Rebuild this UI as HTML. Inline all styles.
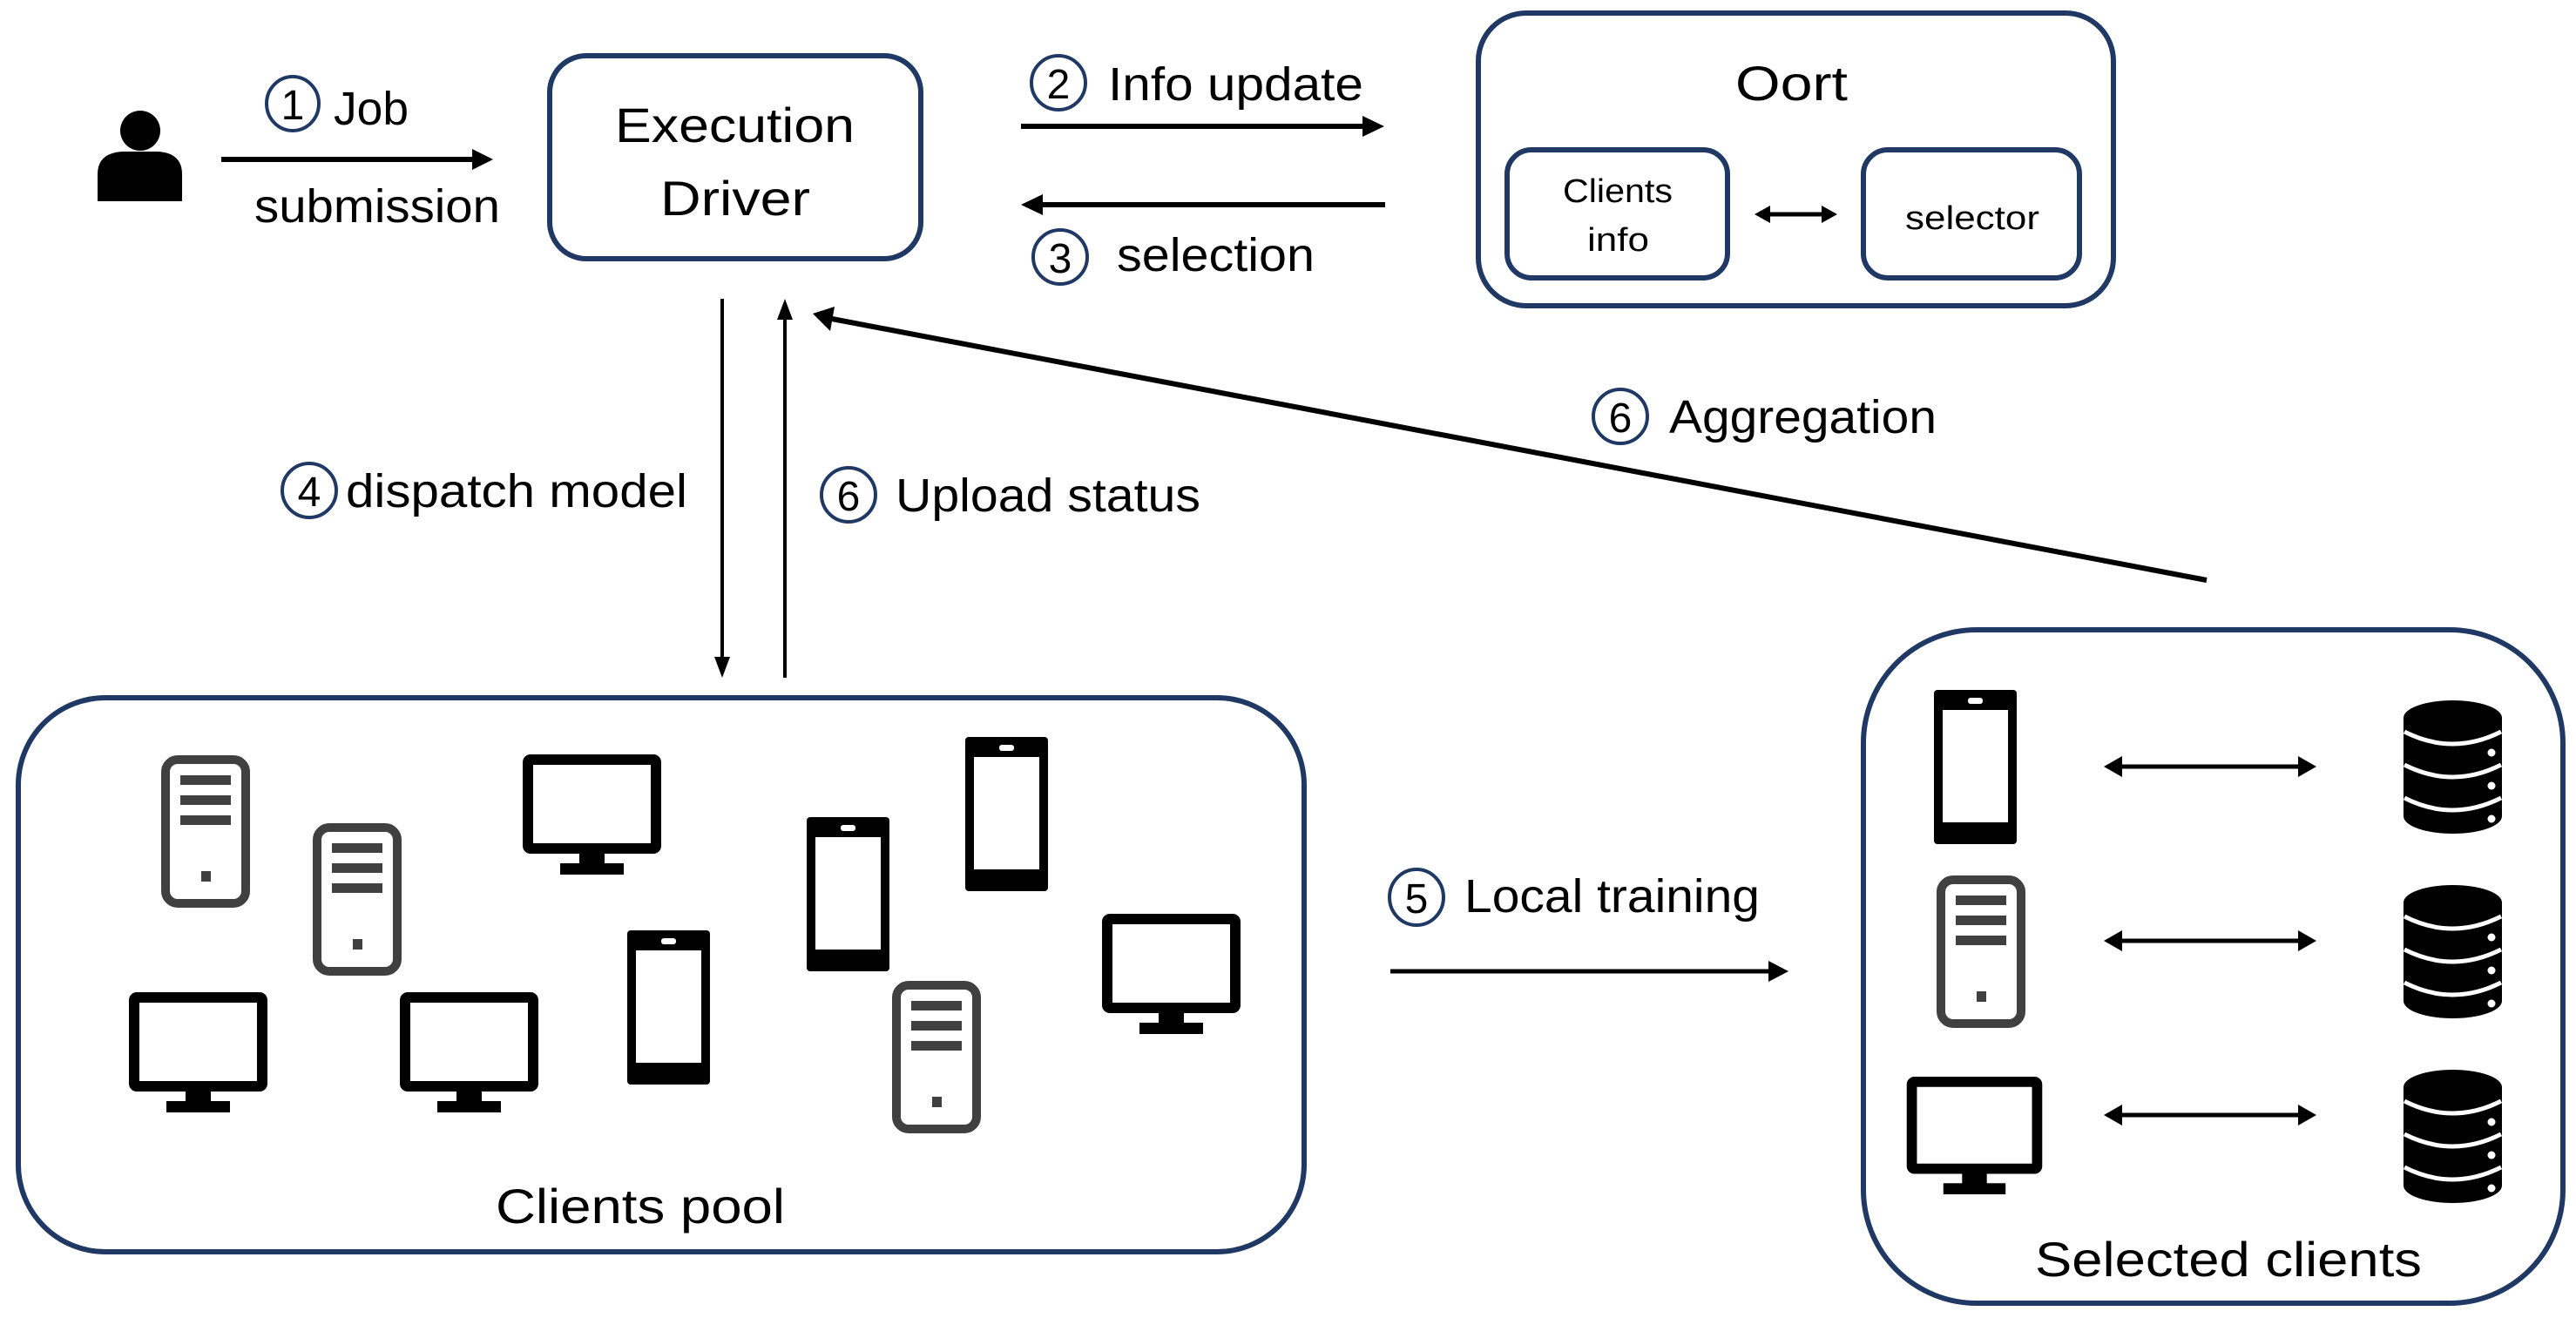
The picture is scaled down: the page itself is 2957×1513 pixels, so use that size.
<!DOCTYPE html>
<html><head><meta charset="utf-8"><style>
html,body{margin:0;padding:0;background:#fff}
svg{display:block}
text{font-family:"Liberation Sans",sans-serif;fill:#000}
</style></head><body>
<svg width="2957" height="1513" viewBox="0 0 2957 1513" xmlns="http://www.w3.org/2000/svg">
<defs>
<symbol id="srv" viewBox="0 0 102 175" width="102" height="175">
<rect x="5" y="5" width="92" height="165" rx="14" fill="none" stroke="#404040" stroke-width="10"/>
<rect x="22" y="23" width="58" height="11" fill="#404040"/>
<rect x="22" y="46" width="58" height="11" fill="#404040"/>
<rect x="22" y="69" width="58" height="11" fill="#404040"/>
<rect x="46" y="133" width="11" height="12" fill="#404040"/>
</symbol>
<symbol id="mon" viewBox="0 0 159 138" width="159" height="138">
<rect x="6" y="6" width="147" height="102" rx="3" fill="none" stroke="#000" stroke-width="12"/>
<rect x="65" y="112" width="29" height="14" fill="#000"/>
<rect x="43" y="125" width="73" height="13" fill="#000"/>
</symbol>
<symbol id="ph" viewBox="0 0 95 177" width="95" height="177">
<rect x="0" y="0" width="95" height="177" rx="4" fill="#000"/>
<rect x="10" y="23" width="75" height="129" fill="#fff"/>
<rect x="39" y="9" width="17" height="7" rx="3" fill="#fff"/>
</symbol>
<symbol id="db" viewBox="0 0 113 153" width="113" height="153">
<ellipse cx="56.5" cy="20" rx="56.5" ry="20" fill="#000"/>
<rect x="0" y="20" width="113" height="113" fill="#000"/>
<ellipse cx="56.5" cy="133" rx="56.5" ry="20" fill="#000"/>
<path d="M1,36 Q56.5,64 112,36" fill="none" stroke="#fff" stroke-width="5"/>
<path d="M1,74 Q56.5,102 112,74" fill="none" stroke="#fff" stroke-width="5"/>
<path d="M1,112 Q56.5,140 112,112" fill="none" stroke="#fff" stroke-width="5"/>
<circle cx="101" cy="60" r="4.5" fill="#fff"/>
<circle cx="101" cy="98" r="4.5" fill="#fff"/>
<circle cx="101" cy="136" r="4.5" fill="#fff"/>
</symbol>
</defs>

<!-- person -->
<circle cx="161" cy="150" r="23" fill="#000"/>
<path d="M112,231 L112,200 Q112,176 140,174 L182,174 Q209,176 209,200 L209,231 Z" fill="#000"/>

<!-- job arrow -->
<line x1="254" y1="183" x2="545" y2="183" stroke="#000" stroke-width="6"/>
<polygon points="566,183 542,171 542,195" fill="#000"/>
<ellipse cx="336" cy="119" rx="30" ry="31" fill="none" stroke="#1f3864" stroke-width="4"/>
<text x="336" y="137" font-size="48" text-anchor="middle">1</text>
<text x="383" y="143" font-size="54" textLength="86" lengthAdjust="spacingAndGlyphs">Job</text>
<text x="292" y="255" font-size="54" textLength="282" lengthAdjust="spacingAndGlyphs">submission</text>

<!-- Execution driver -->
<rect x="631" y="64" width="426" height="233" rx="42" fill="none" stroke="#1f3864" stroke-width="6"/>
<text x="706" y="163" font-size="56" textLength="275" lengthAdjust="spacingAndGlyphs">Execution</text>
<text x="758" y="247" font-size="56" textLength="172" lengthAdjust="spacingAndGlyphs">Driver</text>

<!-- info update -->
<line x1="1172" y1="145" x2="1566" y2="145" stroke="#000" stroke-width="6"/>
<polygon points="1589,145 1564,133 1564,157" fill="#000"/>
<ellipse cx="1215" cy="95" rx="31" ry="31" fill="none" stroke="#1f3864" stroke-width="4"/>
<text x="1215" y="113" font-size="48" text-anchor="middle">2</text>
<text x="1272" y="115" font-size="54" textLength="293" lengthAdjust="spacingAndGlyphs">Info update</text>

<!-- selection -->
<line x1="1194" y1="235" x2="1590" y2="235" stroke="#000" stroke-width="6"/>
<polygon points="1172,235 1197,223 1197,247" fill="#000"/>
<ellipse cx="1217" cy="295" rx="31" ry="31" fill="none" stroke="#1f3864" stroke-width="4"/>
<text x="1217" y="313" font-size="48" text-anchor="middle">3</text>
<text x="1282" y="311" font-size="54" textLength="227" lengthAdjust="spacingAndGlyphs">selection</text>

<!-- Oort -->
<rect x="1697" y="15" width="729" height="336" rx="55" fill="none" stroke="#1f3864" stroke-width="6"/>
<text x="1992" y="115" font-size="56" textLength="129" lengthAdjust="spacingAndGlyphs">Oort</text>
<rect x="1730" y="172" width="253" height="147" rx="28" fill="none" stroke="#1f3864" stroke-width="6"/>
<text x="1794" y="232" font-size="38" textLength="126" lengthAdjust="spacingAndGlyphs">Clients</text>
<text x="1822" y="288" font-size="38" textLength="71" lengthAdjust="spacingAndGlyphs">info</text>
<rect x="2139" y="172" width="248" height="147" rx="28" fill="none" stroke="#1f3864" stroke-width="6"/>
<text x="2187" y="263" font-size="38" textLength="154" lengthAdjust="spacingAndGlyphs">selector</text>
<line x1="2030" y1="246" x2="2093" y2="246" stroke="#000" stroke-width="5"/>
<polygon points="2014,246 2032,236 2032,256" fill="#000"/>
<polygon points="2109,246 2091,236 2091,256" fill="#000"/>

<!-- vertical arrows -->
<line x1="829" y1="343" x2="829" y2="758" stroke="#000" stroke-width="4"/>
<polygon points="829,778 820,754 838,754" fill="#000"/>
<line x1="901" y1="363" x2="901" y2="778" stroke="#000" stroke-width="4"/>
<polygon points="901,343 892,367 910,367" fill="#000"/>
<ellipse cx="355" cy="563" rx="31" ry="31" fill="none" stroke="#1f3864" stroke-width="4"/>
<text x="355" y="581" font-size="48" text-anchor="middle">4</text>
<text x="397" y="582" font-size="54" textLength="392" lengthAdjust="spacingAndGlyphs">dispatch model</text>
<ellipse cx="974" cy="568" rx="31" ry="31" fill="none" stroke="#1f3864" stroke-width="4"/>
<text x="974" y="586" font-size="48" text-anchor="middle">6</text>
<text x="1028" y="587" font-size="54" textLength="350" lengthAdjust="spacingAndGlyphs">Upload status</text>

<!-- aggregation -->
<line x1="2533" y1="666" x2="955" y2="366" stroke="#000" stroke-width="6"/>
<polygon points="933,360 958,352 953,380" fill="#000"/>
<ellipse cx="1860" cy="478" rx="31" ry="31" fill="none" stroke="#1f3864" stroke-width="4"/>
<text x="1860" y="496" font-size="48" text-anchor="middle">6</text>
<text x="1916" y="497" font-size="54" textLength="307" lengthAdjust="spacingAndGlyphs">Aggregation</text>

<!-- clients pool -->
<rect x="21" y="801" width="1476" height="636" rx="100" fill="none" stroke="#1f3864" stroke-width="6"/>
<use href="#srv" x="185" y="867"/>
<use href="#srv" x="359" y="945"/>
<use href="#srv" x="1024" y="1126"/>
<use href="#mon" x="600" y="866"/>
<use href="#mon" x="148" y="1139"/>
<use href="#mon" x="459" y="1139"/>
<use href="#mon" x="1265" y="1049"/>
<use href="#ph" x="720" y="1068"/>
<use href="#ph" x="926" y="938"/>
<use href="#ph" x="1108" y="846"/>
<text x="569" y="1404" font-size="56" textLength="332" lengthAdjust="spacingAndGlyphs">Clients pool</text>

<!-- local training -->
<line x1="1596" y1="1115" x2="2032" y2="1115" stroke="#000" stroke-width="5"/>
<polygon points="2053,1115 2030,1103 2030,1127" fill="#000"/>
<ellipse cx="1626" cy="1030" rx="31" ry="32" fill="none" stroke="#1f3864" stroke-width="4"/>
<text x="1626" y="1048" font-size="48" text-anchor="middle">5</text>
<text x="1681" y="1047" font-size="54" textLength="339" lengthAdjust="spacingAndGlyphs">Local training</text>

<!-- selected clients -->
<rect x="2139" y="723" width="803" height="773" rx="130" fill="none" stroke="#1f3864" stroke-width="6"/>
<use href="#ph" x="2220" y="792"/>
<use href="#srv" x="2223" y="1005"/>
<use href="#mon" x="2186" y="1236" width="161" height="135"/>
<use href="#db" x="2759" y="804"/>
<use href="#db" x="2759" y="1016"/>
<use href="#db" x="2759" y="1228"/>
<g stroke="#000" stroke-width="5">
<line x1="2432" y1="880" x2="2642" y2="880"/>
<line x1="2432" y1="1080" x2="2642" y2="1080"/>
<line x1="2432" y1="1280" x2="2642" y2="1280"/>
</g>
<g fill="#000">
<polygon points="2415,880 2436,868 2436,892"/><polygon points="2659,880 2638,868 2638,892"/>
<polygon points="2415,1080 2436,1068 2436,1092"/><polygon points="2659,1080 2638,1068 2638,1092"/>
<polygon points="2415,1280 2436,1268 2436,1292"/><polygon points="2659,1280 2638,1268 2638,1292"/>
</g>
<text x="2336" y="1465" font-size="56" textLength="444" lengthAdjust="spacingAndGlyphs">Selected clients</text>
</svg>
</body></html>
